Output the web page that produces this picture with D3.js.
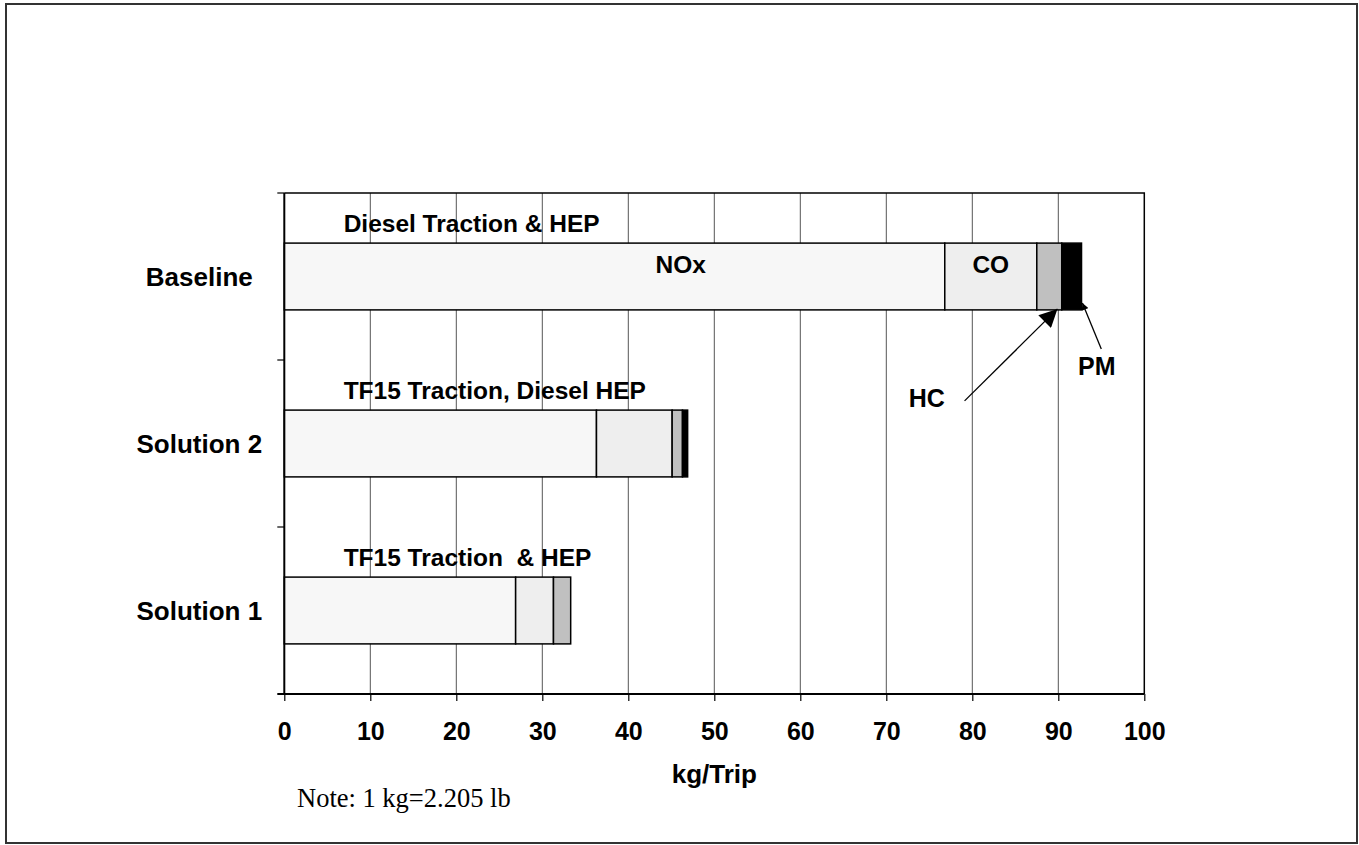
<!DOCTYPE html>
<html>
<head>
<meta charset="utf-8">
<script src="https://cdn.jsdelivr.net/npm/d3@7"></script>
<style>
  body { margin: 0; background: #fff; }
  svg { display: block; }
  .bold { font-family: "Liberation Sans", Arial, sans-serif; font-weight: bold; fill: #000; }
</style>
</head>
<body>
<svg id="chart" width="1359" height="845"></svg>
<script>
// emissions per trip, kg
var categories = ['Baseline', 'Solution 2', 'Solution 1'];
var gases = ['NOx', 'CO', 'HC', 'PM'];
var nox = [76.8, 36.3, 26.9];
var co  = [10.7, 8.8, 4.4];
var hc  = [2.9, 1.2, 2.0];
var pm  = [2.3, 0.6, 0];
var scenarios = ['Diesel Traction & HEP', 'TF15 Traction, Diesel HEP', 'TF15 Traction\u00a0 & HEP'];
var xTicks = [0, 10, 20, 30, 40, 50, 60, 70, 80, 90, 100];

var colors = { NOx: '#f7f7f7', CO: '#eeeeee', HC: '#c0c0c0', PM: '#000000' };

var svg = d3.select('#chart');
var plotL = 284.3, plotR = 1144.3, plotT = 193, plotB = 694;

var x = d3.scaleLinear().domain([0, 100]).range([plotL, plotR]);
var y = d3.scaleBand().domain(categories).range([plotT, plotB]).paddingInner(0.6).paddingOuter(0.3);

var rows = categories.map(function(c, i) {
    return { cat: c, NOx: nox[i], CO: co[i], HC: hc[i], PM: pm[i] };
});
var series = d3.stack().keys(gases)(rows);

// outer frame
svg.append('rect')
    .attr('x', 6).attr('y', 4).attr('width', 1351).attr('height', 839)
    .attr('fill', 'none').attr('stroke', '#333').attr('stroke-width', 2);

// vertical gridlines
svg.append('g').selectAll('line').data(xTicks.slice(1, -1)).join('line')
    .attr('x1', d => x(d)).attr('x2', d => x(d))
    .attr('y1', plotT).attr('y2', plotB)
    .attr('stroke', '#555').attr('stroke-width', 1);

// plot frame: top and right
svg.append('path')
    .attr('d', 'M' + plotL + ',' + plotT + 'H' + plotR + 'V' + plotB)
    .attr('fill', 'none').attr('stroke', '#000').attr('stroke-width', 1.5);

// bars
svg.append('g').selectAll('g').data(series).join('g')
    .attr('fill', d => colors[d.key])
    .selectAll('rect').data(d => d.filter(s => s[1] - s[0] > 0)).join('rect')
    .attr('x', d => x(d[0]))
    .attr('width', d => x(d[1]) - x(d[0]))
    .attr('y', d => y(d.data.cat))
    .attr('height', y.bandwidth())
    .attr('stroke', '#000').attr('stroke-width', 1.5);

// x axis
var xAxis = svg.append('g')
    .attr('transform', 'translate(0,' + plotB + ')')
    .call(d3.axisBottom(x).tickValues(xTicks).tickSize(7).tickSizeOuter(0));
xAxis.select('.domain').remove();
xAxis.selectAll('.tick line').attr('stroke', '#000').attr('stroke-width', 1.2);
xAxis.selectAll('.tick text')
    .attr('class', 'bold').attr('font-size', 25)
    .attr('y', 46).attr('dy', 0);
svg.append('line')
    .attr('x1', plotL - 7).attr('x2', plotR).attr('y1', plotB).attr('y2', plotB)
    .attr('stroke', '#000').attr('stroke-width', 2);

// y axis line with ticks at category boundaries
svg.append('line')
    .attr('x1', plotL).attr('x2', plotL).attr('y1', plotT).attr('y2', plotB)
    .attr('stroke', '#000').attr('stroke-width', 2);
var step = (plotB - plotT) / categories.length;
svg.append('g').selectAll('line').data(d3.range(categories.length)).join('line')
    .attr('x1', plotL - 7).attr('x2', plotL)
    .attr('y1', d => plotT + d * step).attr('y2', d => plotT + d * step)
    .attr('stroke', '#000').attr('stroke-width', 1.2);

// category labels
var yAxis = svg.append('g')
    .attr('transform', 'translate(' + plotL + ',0)')
    .call(d3.axisLeft(y).tickSize(0));
yAxis.select('.domain').remove();
yAxis.selectAll('.tick text')
    .attr('class', 'bold').attr('font-size', 26)
    .attr('x', -85).attr('dy', '0.35em')
    .attr('text-anchor', 'middle');

// scenario captions above each bar
svg.append('g').selectAll('text').data(categories).join('text')
    .attr('class', 'bold').attr('font-size', 24.5)
    .attr('x', x(6.9))
    .attr('y', d => y(d) - 11)
    .text((d, i) => scenarios[i]);

// segment labels on the baseline bar
var base = y(categories[0]);
svg.append('text').attr('class', 'bold').attr('font-size', 24.5)
    .attr('text-anchor', 'middle')
    .attr('x', x(46.1)).attr('y', base + 30)
    .text('NOx');
svg.append('text').attr('class', 'bold').attr('font-size', 24.5)
    .attr('text-anchor', 'middle')
    .attr('x', x(nox[0] + co[0] / 2)).attr('y', base + 30)
    .text('CO');

// HC and PM call-outs
var barBottom = base + y.bandwidth();
var defs = svg.append('defs');
defs.append('marker')
    .attr('id', 'head').attr('viewBox', '0 0 10 10')
    .attr('refX', 10).attr('refY', 5)
    .attr('markerWidth', 22).attr('markerHeight', 18)
    .attr('markerUnits', 'userSpaceOnUse')
    .attr('orient', 'auto')
    .append('path').attr('d', 'M0,0L10,5L0,10Z').attr('fill', '#000');
defs.append('marker')
    .attr('id', 'headSmall').attr('viewBox', '0 0 10 10')
    .attr('refX', 10).attr('refY', 5)
    .attr('markerWidth', 8).attr('markerHeight', 7)
    .attr('markerUnits', 'userSpaceOnUse')
    .attr('orient', 'auto')
    .append('path').attr('d', 'M0,0L10,5L0,10Z').attr('fill', '#000');

svg.append('line')
    .attr('x1', x(79.1)).attr('y1', barBottom + 91)
    .attr('x2', x(89.9)).attr('y2', barBottom - 1)
    .attr('stroke', '#000').attr('stroke-width', 1.3)
    .attr('marker-end', 'url(#head)');
svg.append('text').attr('class', 'bold').attr('font-size', 25)
    .attr('x', x(72.6)).attr('y', barBottom + 97)
    .text('HC');

svg.append('line')
    .attr('x1', x(95.0)).attr('y1', barBottom + 39)
    .attr('x2', x(92.8)).attr('y2', barBottom - 7)
    .attr('stroke', '#000').attr('stroke-width', 1.3)
    .attr('marker-end', 'url(#headSmall)');
svg.append('text').attr('class', 'bold').attr('font-size', 25)
    .attr('x', x(92.3)).attr('y', barBottom + 65)
    .text('PM');

// axis title and note
svg.append('text').attr('class', 'bold').attr('font-size', 26)
    .attr('text-anchor', 'middle')
    .attr('x', (plotL + plotR) / 2).attr('y', 783)
    .text('kg/Trip');
svg.append('text')
    .attr('font-family', '"Liberation Serif", "Times New Roman", serif')
    .attr('font-size', 26.5).attr('fill', '#000')
    .attr('x', 297).attr('y', 807)
    .text('Note: 1 kg=2.205 lb');
</script>
</body>
</html>
